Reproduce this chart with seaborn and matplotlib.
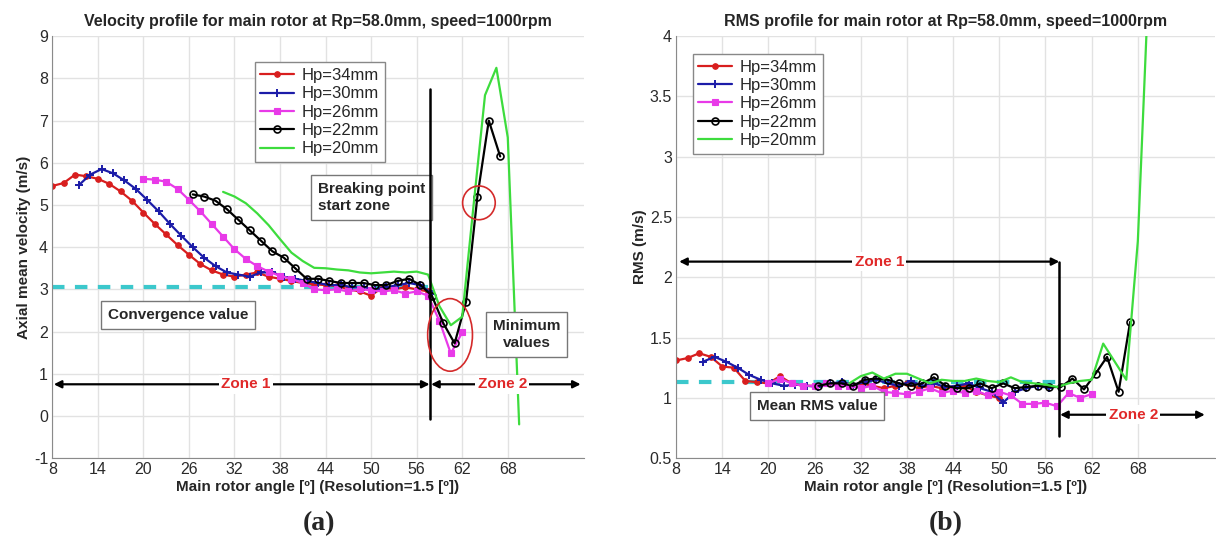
import numpy as np
import pandas as pd
import seaborn as sns
import matplotlib.pyplot as plt
from matplotlib.patches import Ellipse

RES = 1.5  # angular resolution of the measurements [deg]

labels = ["Hp=34mm", "Hp=30mm", "Hp=26mm", "Hp=22mm", "Hp=20mm"]
start_angle = [8.0, 11.5, 20.0, 26.5, 30.5]

# axial mean velocity (m/s)
vel_34 = [5.45, 5.52, 5.72, 5.68, 5.62, 5.50, 5.32, 5.10, 4.82, 4.55, 4.30, 4.05,
          3.82, 3.60, 3.45, 3.35, 3.30, 3.35, 3.40, 3.30, 3.25, 3.20, 3.15, 3.12,
          3.10, 3.08, 3.00, 2.95, 2.85, 3.05, 3.00, 3.05, 3.00, 2.95]
vel_30 = [5.47, 5.72, 5.85, 5.75, 5.58, 5.38, 5.12, 4.85, 4.55, 4.27, 4.00, 3.75,
          3.55, 3.40, 3.35, 3.30, 3.40, 3.40, 3.30, 3.25, 3.20, 3.15, 3.10, 3.10,
          3.05, 3.05, 3.00, 3.05, 3.10, 3.15, 3.10, 2.90]
vel_26 = [5.62, 5.60, 5.55, 5.38, 5.12, 4.85, 4.55, 4.25, 3.95, 3.72, 3.55, 3.42,
          3.32, 3.25, 3.15, 3.00, 2.98, 3.00, 2.95, 3.00, 2.98, 2.95, 2.98, 2.90,
          2.95, 2.85, 2.25, 1.48, 1.98]
vel_22 = [5.25, 5.20, 5.10, 4.90, 4.65, 4.40, 4.15, 3.90, 3.75, 3.50, 3.25, 3.25,
          3.20, 3.15, 3.15, 3.15, 3.10, 3.10, 3.20, 3.25, 3.10, 2.85, 2.20, 1.72,
          2.70, 5.20, 7.00, 6.15]
vel_20 = [5.31, 5.20, 5.04, 4.80, 4.52, 4.19, 3.87, 3.67, 3.51, 3.50, 3.47, 3.45,
          3.40, 3.38, 3.40, 3.42, 3.40, 3.42, 3.35, 2.60, 2.15, 2.35, 5.00, 7.60,
          8.25, 6.60, -0.20]

# RMS (m/s)
rms_34 = [1.31, 1.33, 1.37, 1.34, 1.26, 1.25, 1.14, 1.13, 1.12, 1.18, 1.12, 1.10,
          1.10, 1.12, 1.11, 1.10, 1.12, 1.10, 1.08, 1.10, 1.12, 1.08, 1.10, 1.08,
          1.08, 1.10, 1.05, 1.02, 1.00]
rms_30 = [1.30, 1.34, 1.30, 1.25, 1.19, 1.15, 1.12, 1.10, 1.11, 1.10, 1.09, 1.12,
          1.13, 1.11, 1.13, 1.15, 1.12, 1.10, 1.14, 1.10, 1.12, 1.09, 1.10, 1.12,
          1.08, 1.05, 0.96, 1.05, 1.08, 1.10, 1.08]
rms_26 = [1.12, 1.16, 1.12, 1.10, 1.10, 1.12, 1.10, 1.10, 1.08, 1.10, 1.05, 1.04,
          1.03, 1.05, 1.08, 1.04, 1.06, 1.04, 1.06, 1.02, 1.05, 1.02, 0.95, 0.95,
          0.96, 0.93, 1.04, 1.00, 1.03]
rms_22 = [1.10, 1.12, 1.12, 1.10, 1.15, 1.16, 1.15, 1.12, 1.10, 1.12, 1.17, 1.10,
          1.08, 1.08, 1.12, 1.08, 1.12, 1.08, 1.09, 1.10, 1.09, 1.09, 1.16, 1.07,
          1.20, 1.34, 1.05, 1.63]
rms_20 = [1.12, 1.18, 1.21, 1.16, 1.20, 1.20, 1.16, 1.12, 1.15, 1.14, 1.14, 1.16,
          1.14, 1.13, 1.17, 1.13, 1.12, 1.11, 1.09, 1.12, 1.14, 1.15, 1.45, 1.30,
          1.15, 2.30, 4.60]

convergence_value = 3.05
mean_rms_value = 1.13
break_angle = 57.8

styles = [
    dict(color="#d81e1e", marker="o", markersize=4, markeredgecolor="#d81e1e",
         markerfacecolor="#d81e1e", markeredgewidth=0.8),
    dict(color="#1c1ca8", marker="+", markersize=5.5, markeredgecolor="#1c1ca8",
         markeredgewidth=1.4),
    dict(color="#e83ae8", marker="s", markersize=4, markeredgecolor="#e83ae8",
         markerfacecolor="#e83ae8", markeredgewidth=0.8),
    dict(color="black", marker="o", markersize=5, markeredgecolor="black",
         markerfacecolor="none", markeredgewidth=1.2),
    dict(color="#3ddc3d"),
]


def to_frame(start, values):
    return pd.DataFrame({"angle": start + RES * np.arange(len(values)), "value": values})


sns.set_style("whitegrid", {"grid.color": "#e2e2e2", "axes.edgecolor": "#8a8a8a"})
plt.rcParams["font.family"] = ["Liberation Sans", "DejaVu Sans"]
plt.rcParams["axes.unicode_minus"] = False

fig = plt.figure(figsize=(12.16, 5.48), dpi=100)
ax1 = fig.add_axes([0.043, 0.164, 0.437, 0.770])
ax2 = fig.add_axes([0.556, 0.164, 0.443, 0.770])

box = dict(boxstyle="square,pad=0.45", facecolor="white", edgecolor="#777777", lw=1)
zone_kw = dict(color="#e02828", fontsize=11, fontweight="bold", ha="center", va="center",
               bbox=dict(boxstyle="square,pad=0.15", facecolor="white", edgecolor="none"))
arrow = dict(arrowstyle="<|-|>", color="black", lw=1.6, mutation_scale=11, shrinkA=0, shrinkB=0)
legend_kw = dict(loc="upper left", fontsize=12, fancybox=False, edgecolor="#888888",
                 framealpha=1, borderpad=0.35, labelspacing=0.2, handlelength=2.0,
                 handletextpad=0.5)

for ax, series in [(ax1, [vel_34, vel_30, vel_26, vel_22, vel_20]),
                   (ax2, [rms_34, rms_30, rms_26, rms_22, rms_20])]:
    for lab, start, vals, st in zip(labels, start_angle, series, styles):
        sns.lineplot(data=to_frame(start, vals), x="angle", y="value", ax=ax,
                     label=lab, lw=1.6, errorbar=None, **st)

# ---- (a) velocity
ax1.plot([8, 57.5], [convergence_value] * 2, ls=(0, (3, 2.5)), lw=3, color="#3cc8cc", zorder=1.5)
ax1.plot([break_angle] * 2, [-0.08, 7.75], color="black", lw=1.8, zorder=4)
ax1.annotate("", xy=(8.2, 0.75), xytext=(break_angle - 0.1, 0.75), arrowprops=arrow)
ax1.annotate("", xy=(break_angle + 0.1, 0.75), xytext=(77.6, 0.75), arrowprops=arrow)
ax1.text(33.5, 0.75, "Zone 1", **zone_kw)
ax1.text(67.3, 0.75, "Zone 2", **zone_kw)
ax1.text(24.6, 2.4, "Convergence value", fontsize=11, fontweight="bold", ha="center",
         va="center", bbox=box)
ax1.text(43.0, 5.17, "Breaking point\nstart zone", fontsize=11, fontweight="bold",
         ha="left", va="center", linespacing=1.3, bbox=box)
ax1.text(70.5, 1.93, "Minimum\nvalues", fontsize=11, fontweight="bold", ha="center",
         va="center", linespacing=1.3, bbox=box)
ax1.add_patch(Ellipse((60.4, 1.92), 5.9, 1.72, fill=False, edgecolor="#d42a2a", lw=1.2, zorder=5))
ax1.add_patch(Ellipse((64.2, 5.05), 4.3, 0.8, fill=False, edgecolor="#d42a2a", lw=1.2, zorder=5))
ax1.set_ylim(-1, 9)
ax1.set_yticks(range(-1, 10))
ax1.set_ylabel("Axial mean velocity (m/s)", fontsize=11, fontweight="bold", labelpad=2)
ax1.set_title("Velocity profile for main rotor at Rp=58.0mm, speed=1000rpm",
              fontsize=11.5, fontweight="bold", pad=7)
ax1.legend(bbox_to_anchor=(0.365, 0.958), **legend_kw)

# ---- (b) RMS
ax2.plot([8, 57.5], [mean_rms_value] * 2, ls=(0, (3, 2.5)), lw=3, color="#3cc8cc", zorder=1.5)
ax2.plot([break_angle] * 2, [0.68, 2.13], color="black", lw=1.8, zorder=4)
ax2.annotate("", xy=(8.4, 2.13), xytext=(break_angle, 2.13), arrowprops=arrow)
ax2.annotate("", xy=(break_angle + 0.1, 0.86), xytext=(76.7, 0.86), arrowprops=arrow)
ax2.text(34.4, 2.13, "Zone 1", **zone_kw)
ax2.text(67.4, 0.86, "Zone 2", **zone_kw)
ax2.text(26.3, 0.93, "Mean RMS value", fontsize=11, fontweight="bold", ha="center",
         va="center", bbox=box)
ax2.set_ylim(0.5, 4)
ax2.set_yticks(np.arange(0.5, 4.01, 0.5))
ax2.set_yticklabels(["0.5", "1", "1.5", "2", "2.5", "3", "3.5", "4"])
ax2.set_ylabel("RMS (m/s)", fontsize=11, fontweight="bold", labelpad=2)
ax2.set_title("RMS profile for main rotor at Rp=58.0mm, speed=1000rpm",
              fontsize=11.5, fontweight="bold", pad=7)
ax2.legend(bbox_to_anchor=(0.015, 0.978), **legend_kw)

for ax in (ax1, ax2):
    ax.set_xlim(8, 78)
    ax.set_xticks(range(8, 69, 6))
    ax.set_xlabel("Main rotor angle [º] (Resolution=1.5 [º])", fontsize=11,
                  fontweight="bold", labelpad=2)
    ax.tick_params(axis="both", labelsize=11.5, labelcolor="#2a2a2a", direction="in",
                   length=3, color="#8a8a8a", pad=3)
    ax.grid(True, color="#e2e2e2", lw=1)
    sns.despine(ax=ax)

fig.text(0.262, 0.045, "(a)", fontsize=20, fontweight="bold", ha="center", va="center",
         family=["Liberation Serif", "DejaVu Serif"])
fig.text(0.778, 0.045, "(b)", fontsize=20, fontweight="bold", ha="center", va="center",
         family=["Liberation Serif", "DejaVu Serif"])

fig.savefig("out.png", dpi=100)
